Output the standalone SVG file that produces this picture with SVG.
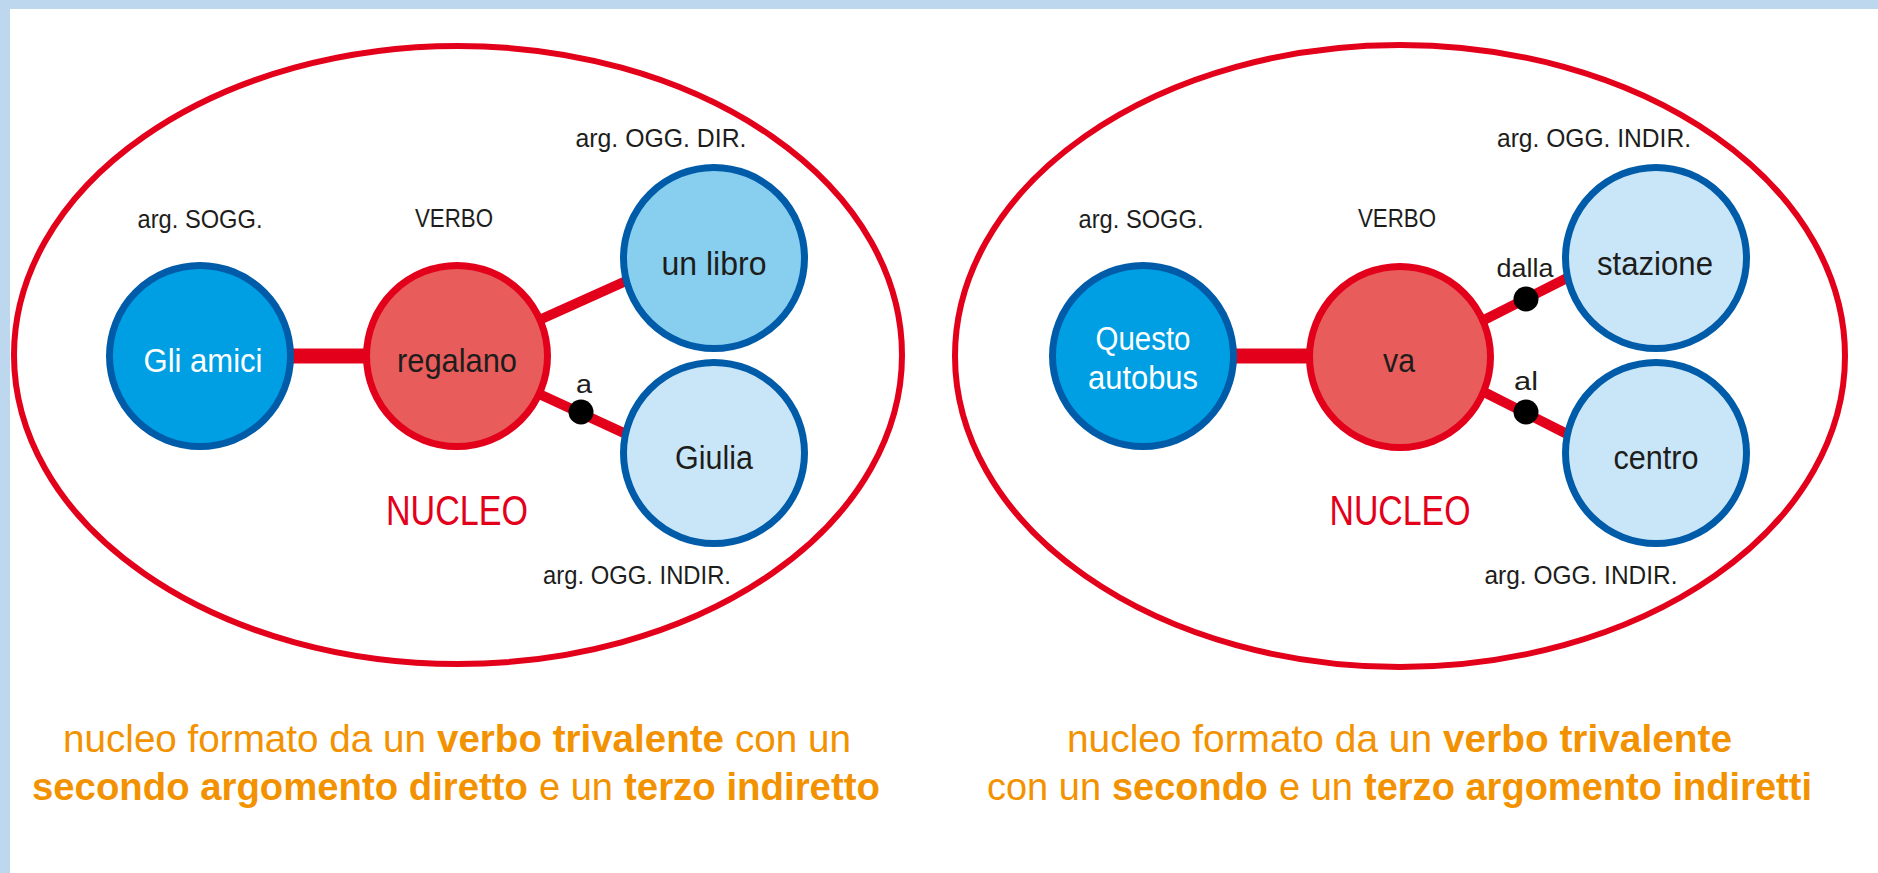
<svg xmlns="http://www.w3.org/2000/svg" width="1878" height="873" viewBox="0 0 1878 873">
<style>
  text { font-family: "Liberation Sans", Arial, sans-serif; text-anchor: middle; }
  .small { font-size: 26px; fill: #1d1d1b; }
  .ntxt { font-size: 34px; fill: #1d1d1b; }
  .white { fill: #ffffff; }
  .nucleo { font-size: 42px; fill: #e3001b; }
  .cap { font-size: 38.3px; fill: #f39200; text-anchor: start; }
  .b { font-weight: bold; }
  .big { fill: none; stroke: #e3001b; stroke-width: 6; }
  .subj { fill: #009fe3; stroke: #005ca9; stroke-width: 7; }
  .verb { fill: #e85c5c; stroke: #e3001b; stroke-width: 7; }
  .dobj { fill: #87ceef; stroke: #005ca9; stroke-width: 7; }
  .iobj { fill: #c9e6f8; stroke: #005ca9; stroke-width: 7; }
  .bar { stroke: #e3001b; stroke-width: 15; }
  .link { stroke: #e3001b; stroke-width: 10; }
  .dot { fill: #000000; }
</style>
<rect x="0" y="0" width="1878" height="873" fill="#ffffff"/>
<rect x="0" y="0" width="1878" height="9" fill="#bdd7ee"/>
<rect x="0" y="0" width="10" height="873" fill="#bdd7ee"/>

<g id="nucleo-left">
  <ellipse class="big" cx="458" cy="355" rx="444" ry="309"/>
  <text class="nucleo" x="457" y="525" textLength="142" lengthAdjust="spacingAndGlyphs">NUCLEO</text>
</g>
<g id="nucleo-right">
  <ellipse class="big" cx="1400" cy="356" rx="445" ry="311"/>
  <text class="nucleo" x="1400" y="525" textLength="141" lengthAdjust="spacingAndGlyphs">NUCLEO</text>
</g>

<g id="connectors">
  <line class="bar" x1="290" y1="356" x2="368" y2="356"/>
  <line class="link" x1="537" y1="321" x2="626" y2="281"/>
  <line class="link" x1="537" y1="393" x2="626" y2="434"/>
  <circle class="dot" cx="581" cy="412" r="12.5"/>
  <text class="small" x="584" y="393" textLength="16" lengthAdjust="spacingAndGlyphs">a</text>

  <line class="bar" x1="1232" y1="356" x2="1311" y2="356"/>
  <line class="link" x1="1482" y1="321" x2="1567" y2="278"/>
  <line class="link" x1="1482" y1="391" x2="1567" y2="434"/>
  <circle class="dot" cx="1526" cy="299" r="12.5"/>
  <circle class="dot" cx="1526" cy="412" r="12.5"/>
  <text class="small" x="1525" y="277" textLength="57" lengthAdjust="spacingAndGlyphs">dalla</text>
  <text class="small" x="1526" y="390" textLength="24" lengthAdjust="spacingAndGlyphs">al</text>
</g>

<g id="node-gli-amici">
  <circle class="subj" cx="200" cy="356" r="90.5"/>
  <text class="ntxt white" x="203" y="372" textLength="119" lengthAdjust="spacingAndGlyphs">Gli amici</text>
  <text class="small" x="200" y="228" textLength="125" lengthAdjust="spacingAndGlyphs">arg. SOGG.</text>
</g>
<g id="node-regalano">
  <circle class="verb" cx="457" cy="356" r="90.5"/>
  <text class="ntxt" x="457" y="372" textLength="120" lengthAdjust="spacingAndGlyphs">regalano</text>
  <text class="small" x="454" y="227" textLength="78" lengthAdjust="spacingAndGlyphs">VERBO</text>
</g>
<g id="node-un-libro">
  <circle class="dobj" cx="714" cy="258" r="90.5"/>
  <text class="ntxt" x="714" y="275" textLength="105" lengthAdjust="spacingAndGlyphs">un libro</text>
  <text class="small" x="661" y="147" textLength="171" lengthAdjust="spacingAndGlyphs">arg. OGG. DIR.</text>
</g>
<g id="node-giulia">
  <circle class="iobj" cx="714" cy="453" r="90.5"/>
  <text class="ntxt" x="714" y="469" textLength="78" lengthAdjust="spacingAndGlyphs">Giulia</text>
  <text class="small" x="637" y="584" textLength="188" lengthAdjust="spacingAndGlyphs">arg. OGG. INDIR.</text>
</g>

<g id="node-questo-autobus">
  <circle class="subj" cx="1143" cy="356" r="90.5"/>
  <text class="ntxt white" x="1143" y="350" textLength="95" lengthAdjust="spacingAndGlyphs">Questo</text>
  <text class="ntxt white" x="1143" y="389" textLength="110" lengthAdjust="spacingAndGlyphs">autobus</text>
  <text class="small" x="1141" y="228" textLength="125" lengthAdjust="spacingAndGlyphs">arg. SOGG.</text>
</g>
<g id="node-va">
  <circle class="verb" cx="1400" cy="357" r="90.5"/>
  <text class="ntxt" x="1399" y="372" textLength="32" lengthAdjust="spacingAndGlyphs">va</text>
  <text class="small" x="1397" y="227" textLength="78" lengthAdjust="spacingAndGlyphs">VERBO</text>
</g>
<g id="node-stazione">
  <circle class="iobj" cx="1656" cy="258" r="90.5"/>
  <text class="ntxt" x="1655" y="275" textLength="116" lengthAdjust="spacingAndGlyphs">stazione</text>
  <text class="small" x="1594" y="147" textLength="194" lengthAdjust="spacingAndGlyphs">arg. OGG. INDIR.</text>
</g>
<g id="node-centro">
  <circle class="iobj" cx="1656" cy="453" r="90.5"/>
  <text class="ntxt" x="1656" y="469" textLength="85" lengthAdjust="spacingAndGlyphs">centro</text>
  <text class="small" x="1581" y="584" textLength="193" lengthAdjust="spacingAndGlyphs">arg. OGG. INDIR.</text>
</g>

<g id="caption-left">
  <text class="cap" x="63" y="752" textLength="363" lengthAdjust="spacingAndGlyphs">nucleo formato da un</text>
  <text class="cap b" x="437" y="752" textLength="287" lengthAdjust="spacingAndGlyphs">verbo trivalente</text>
  <text class="cap" x="735" y="752" textLength="116" lengthAdjust="spacingAndGlyphs">con un</text>
  <text class="cap b" x="32" y="800" textLength="496" lengthAdjust="spacingAndGlyphs">secondo argomento diretto</text>
  <text class="cap" x="539" y="800" textLength="74" lengthAdjust="spacingAndGlyphs">e un</text>
  <text class="cap b" x="624" y="800" textLength="256" lengthAdjust="spacingAndGlyphs">terzo indiretto</text>
</g>
<g id="caption-right">
  <text class="cap" x="1067" y="752" textLength="365" lengthAdjust="spacingAndGlyphs">nucleo formato da un</text>
  <text class="cap b" x="1443" y="752" textLength="289" lengthAdjust="spacingAndGlyphs">verbo trivalente</text>
  <text class="cap" x="987" y="800" textLength="114" lengthAdjust="spacingAndGlyphs">con un</text>
  <text class="cap b" x="1112" y="800" textLength="156" lengthAdjust="spacingAndGlyphs">secondo</text>
  <text class="cap" x="1279" y="800" textLength="74" lengthAdjust="spacingAndGlyphs">e un</text>
  <text class="cap b" x="1364" y="800" textLength="448" lengthAdjust="spacingAndGlyphs">terzo argomento indiretti</text>
</g>
</svg>
